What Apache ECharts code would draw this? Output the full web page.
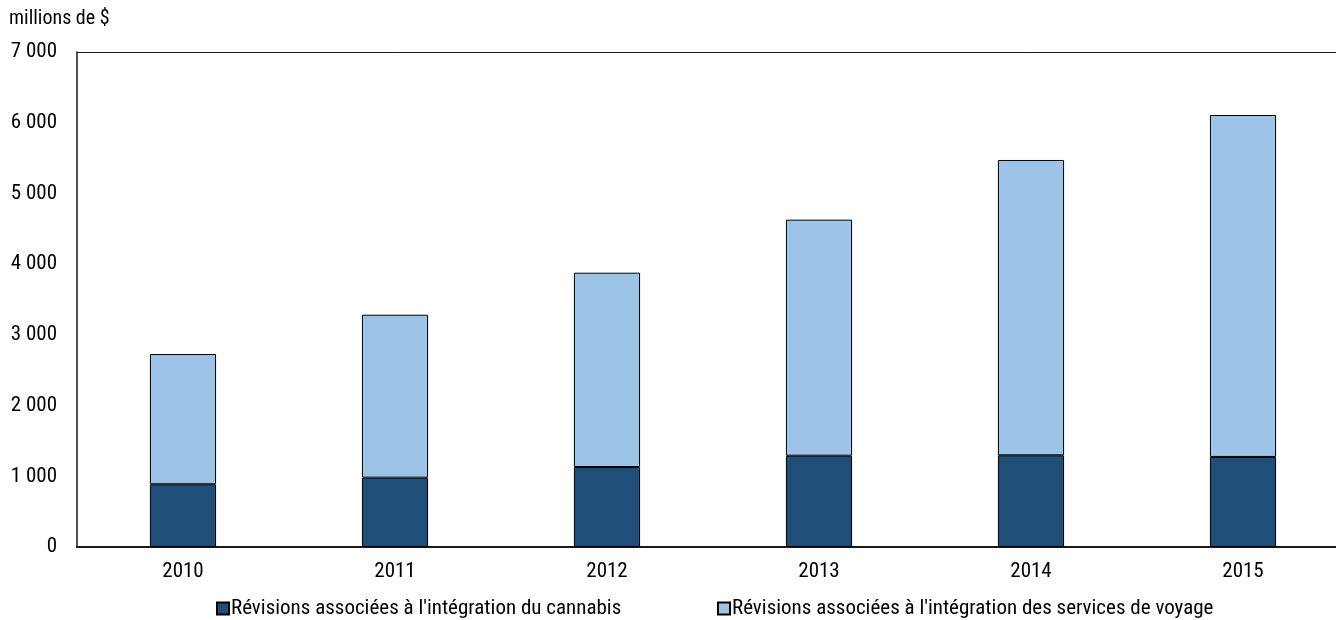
<!DOCTYPE html>
<html><head><meta charset="utf-8">
<script src="https://cdn.jsdelivr.net/npm/echarts@6/dist/echarts.min.js"></script>
<style>html,body{margin:0;padding:0;background:#fff;overflow:hidden;width:1336px;height:620px}#c{width:1349px;height:620px}</style>
</head><body><div id="c"></div>
<script>
const categories = ['2010','2011','2012','2013','2014','2015'];
const cannabis = [887, 980, 1131, 1291, 1297, 1273];
const voyage = [1842, 2305, 2748, 3338, 4176, 4836];
const yTicks = [0,1000,2000,3000,4000,5000,6000,7000];
const seriesNames = ["Révisions associées à l'intégration du cannabis", "Révisions associées à l'intégration des services de voyage"];
const FONT = "'Liberation Sans Narrow','Roboto Condensed','Liberation Sans',sans-serif";
const FS = 21;
const fmt = v => String(v).replace(/\B(?=(\d{3})+(?!\d))/g, ' ');
const chart = echarts.init(document.getElementById('c'), null, {renderer:'canvas'});
chart.setOption({
  animation:false,
  textStyle:{fontFamily:FONT},
  title:{text:'millions de $', left:9, top:9, padding:0, textStyle:{fontFamily:FONT,fontSize:FS-1,fontWeight:'normal',color:'#000'}},
  grid:{left:77, right:0, top:52, bottom:73, containLabel:false},
  legend:[
    {data:[seriesNames[0]], left:216, top:598, padding:0, itemWidth:12, itemHeight:12, itemGap:4, icon:'rect',
     textStyle:{fontFamily:FONT,fontSize:FS,color:'#000',padding:[0,0,0,-3]}},
    {data:[seriesNames[1]], left:717, top:598, padding:0, itemWidth:12, itemHeight:12, itemGap:4, icon:'rect',
     textStyle:{fontFamily:FONT,fontSize:FS,color:'#000',padding:[0,0,0,-3]}}
  ],
  xAxis:[
    {type:'category', data:categories, position:'bottom',
     axisLine:{lineStyle:{color:'#1a1a1a',width:2}}, axisTick:{show:false},
     axisLabel:{fontFamily:FONT,fontSize:FS,color:'#000',margin:14}},
    {type:'category', data:categories, position:'top',
     axisLine:{lineStyle:{color:'#1a1a1a',width:1}}, axisTick:{show:false}, axisLabel:{show:false}}
  ],
  yAxis:{type:'value', min:0, max:7000, interval:1000,
    axisLine:{show:true,lineStyle:{color:'#1a1a1a',width:1.5}}, axisTick:{show:false}, splitLine:{show:false},
    axisLabel:{fontFamily:FONT,fontSize:FS,color:'#000',margin:20,formatter:v=>yTicks.includes(v)?fmt(v):''}},
  series:[
    {name:seriesNames[0], type:'bar', stack:'a', data:cannabis, barWidth:'31.2%',
     itemStyle:{color:'#1F4E79', borderColor:'#000', borderWidth:1}},
    {name:seriesNames[1], type:'bar', stack:'a', data:voyage, barWidth:'31.2%',
     itemStyle:{color:'#9DC3E6', borderColor:'#000', borderWidth:1}}
  ]
});
</script></body></html>
